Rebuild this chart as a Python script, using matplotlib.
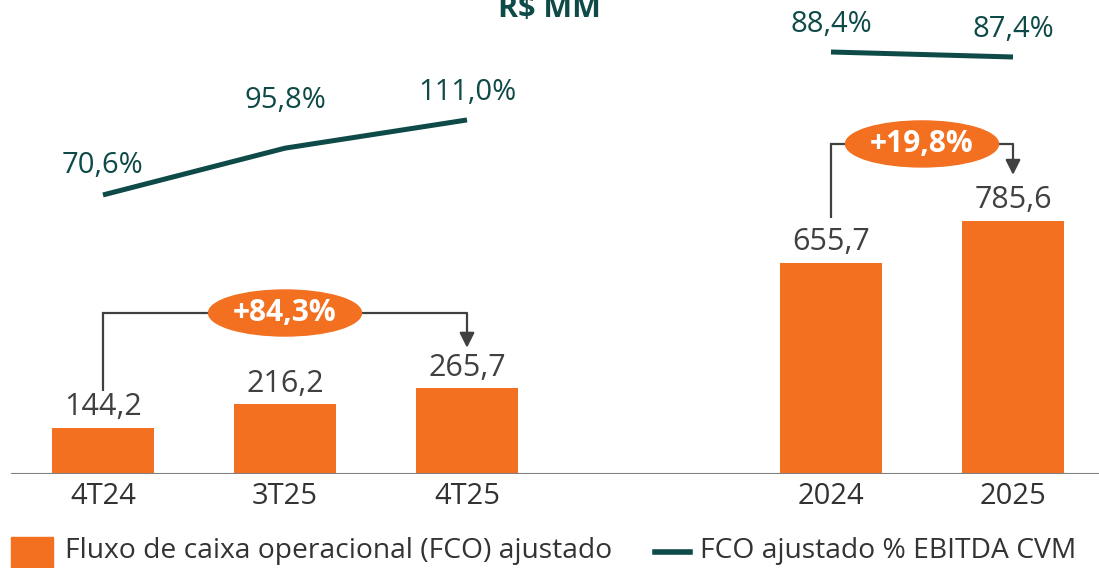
import matplotlib
matplotlib.use("Agg")
import matplotlib.pyplot as plt
from matplotlib.patches import Ellipse, Rectangle
from matplotlib.lines import Line2D

plt.rcParams['font.family'] = ['Open Sans', 'DejaVu Sans']

# ---------------- data ----------------
categories = ["4T24", "3T25", "4T25", "2024", "2025"]
fco_values = [144.2, 216.2, 265.7, 655.7, 785.6]
fco_pct_quarters = [70.6, 95.8, 111.0]     # FCO ajustado % EBITDA CVM (quarters)
fco_pct_years = [88.4, 87.4]               # FCO ajustado % EBITDA CVM (years)
growth_quarters = "+84,3%"
growth_years = "+19,8%"
title = "R$ MM"
legend_bar = "Fluxo de caixa operacional (FCO) ajustado"
legend_line = "FCO ajustado % EBITDA CVM"

ORANGE = "#F37021"
TEAL = "#0E4A47"
GRAY = "#404040"

def fmt(v, suffix=""):
    return f"{v:.1f}".replace(".", ",") + suffix

W, H = 1099, 568
fig = plt.figure(figsize=(W / 100, H / 100), dpi=100)
base_px = 474
ax = fig.add_axes([0, (H - base_px) / H, 1, base_px / H])
positions = [0, 1, 2, 4, 5]
step = 182.0
ax.set_xlim(-103 / step, (W - 103) / step)
ax.set_ylim(0, base_px / 0.322)
for s in ax.spines.values():
    s.set_visible(False)
ax.set_yticks([])

bars = ax.bar(positions, fco_values, width=0.555, color=ORANGE, zorder=2)
for p, v in zip(positions, fco_values):
    ax.annotate(fmt(v), (p, v), xytext=(0, 15), textcoords="offset points",
                ha="center", va="center", fontsize=22, color=GRAY)

ax.axhline(0, xmin=12 / W, xmax=1, color="#7F7F7F", lw=1.5, zorder=3)
ax.set_xticks(positions)
ax.set_xticklabels(categories, fontsize=21, color="#333333")
ax.tick_params(axis="x", length=0, pad=6)

# secondary axes for the percentage lines
ax2 = ax.twinx()
ax2.set_ylim(-79.7, 175.6)
ax3 = ax.twinx()
ax3.set_ylim(4.0, 98.8)
for a in (ax2, ax3):
    a.set_yticks([])
    for s in a.spines.values():
        s.set_visible(False)

ax2.plot(positions[:3], fco_pct_quarters, color=TEAL, lw=3.6, solid_capstyle="butt")
ax3.plot(positions[3:], fco_pct_years, color=TEAL, lw=3.6, solid_capstyle="butt")
q_off = [21, 34, 20]
for p, v, o in zip(positions[:3], fco_pct_quarters, q_off):
    ax2.annotate(fmt(v, "%"), (p, v), xytext=(0, o), textcoords="offset points",
                 ha="center", va="center", fontsize=21, color=TEAL)
for p, v in zip(positions[3:], fco_pct_years):
    ax3.annotate(fmt(v, "%"), (p, v), xytext=(0, 19.5), textcoords="offset points",
                 ha="center", va="center", fontsize=21, color=TEAL)

# growth brackets
def bracket(x0, x1, y_start, y_level, y_tip, text):
    ax.plot([x0, x0, x1], [y_start, y_level, y_level], color=GRAY, lw=1.6,
            solid_capstyle="butt", solid_joinstyle="miter", zorder=4)
    ax.annotate("", xy=(x1, y_tip), xytext=(x1, y_level),
                arrowprops=dict(arrowstyle="-|>,head_length=0.9,head_width=0.45",
                                color=GRAY, lw=1.6, shrinkA=0, shrinkB=0), zorder=4)
    xm = (x0 + x1) / 2
    ax.add_patch(Ellipse((xm, y_level), 153 / step, 46 / 0.322, color=ORANGE, zorder=5))
    ax.text(xm, y_level, text, ha="center", va="center", fontsize=21.5,
            fontweight="bold", color="white", zorder=6)

bracket(positions[0], positions[2], 258, 500, 392, growth_quarters)
bracket(positions[3], positions[4], 795, 1025, 929, growth_years)

# title
fig.text(549 / W, 1 - 17 / H, title, ha="center", va="baseline", fontsize=22,
         fontweight="bold", color=TEAL)

# legend (manual)
fig.patches.append(Rectangle((11 / W, 1 - 577 / H), 42 / W, 40 / H,
                             transform=fig.transFigure, color=ORANGE))
fig.text(65 / W, 1 - 551 / H, legend_bar, ha="left", va="center", fontsize=20.3,
         color="#333333")
fig.lines.append(Line2D([655 / W, 690 / W], [1 - 552 / H, 1 - 552 / H],
                        transform=fig.transFigure, color=TEAL, lw=4))
fig.text(700 / W, 1 - 551 / H, legend_line, ha="left", va="center", fontsize=20.3,
         color="#333333")

fig.savefig("out.png", dpi=100)
